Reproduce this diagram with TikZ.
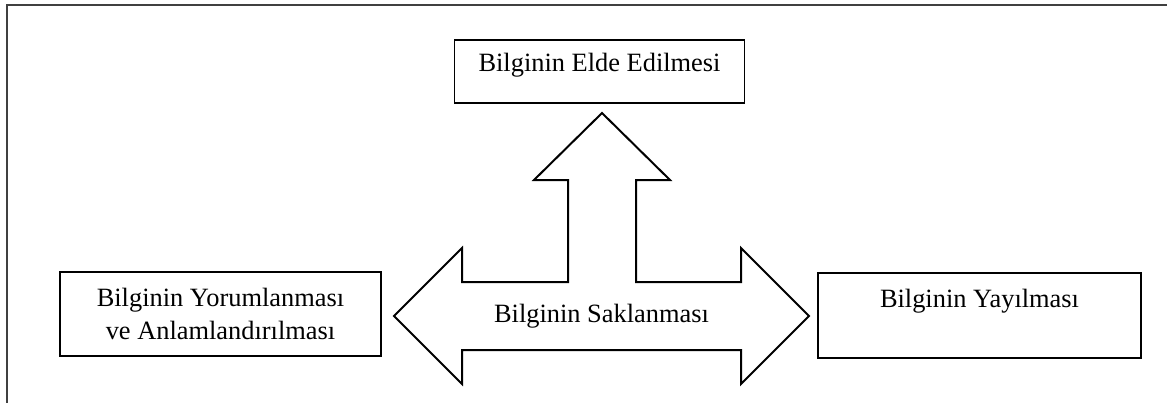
\documentclass[tikz,border=0pt]{standalone}
\usepackage{fontspec}
\setmainfont{Liberation Serif}

\begin{document}
\begin{tikzpicture}[x=0.5pt,y=-0.5pt]
\tikzstyle{every node}+=[inner sep=0pt, font=\fontsize{13.2}{16.5}\selectfont]
\tikzstyle{kutu}=[draw=black, line width=0.65pt, align=center]
\useasboundingbox (0,0) rectangle (1167,403);
% page frame, top and left only
\draw [black!75, line width=1pt] (1167,4.5) -- (7,4.5) -- (7,403);
% the three boxes
\node [kutu, minimum width=145pt, minimum height=31.5pt, text depth=9.5pt] (elde) at (599.5,71.5) {Bilginin Elde Edilmesi};
\node [kutu, minimum width=160.5pt, minimum height=42pt] (yorum) at (220.5,314) {Bilginin Yorumlanması\\ve Anlamlandırılması};
\node [kutu, minimum width=161.5pt, minimum height=42.5pt, text depth=17pt] (yayma) at (979.5,315.5) {Bilginin Yayılması};
% three-headed block arrow
\draw [black, line width=1pt, line join=miter] (602,113) -- (670,180) -- (636,180) -- (636,282)
  -- (741,282) -- (741,248) -- (809,316) -- (741,384) -- (741,350)
  -- (462,350) -- (462,384) -- (394,316) -- (462,248) -- (462,282)
  -- (568,282) -- (568,180) -- (534,180) -- cycle;
\node (saklama) at (601.5,316) {Bilginin Saklanması};
\end{tikzpicture}
\end{document}
